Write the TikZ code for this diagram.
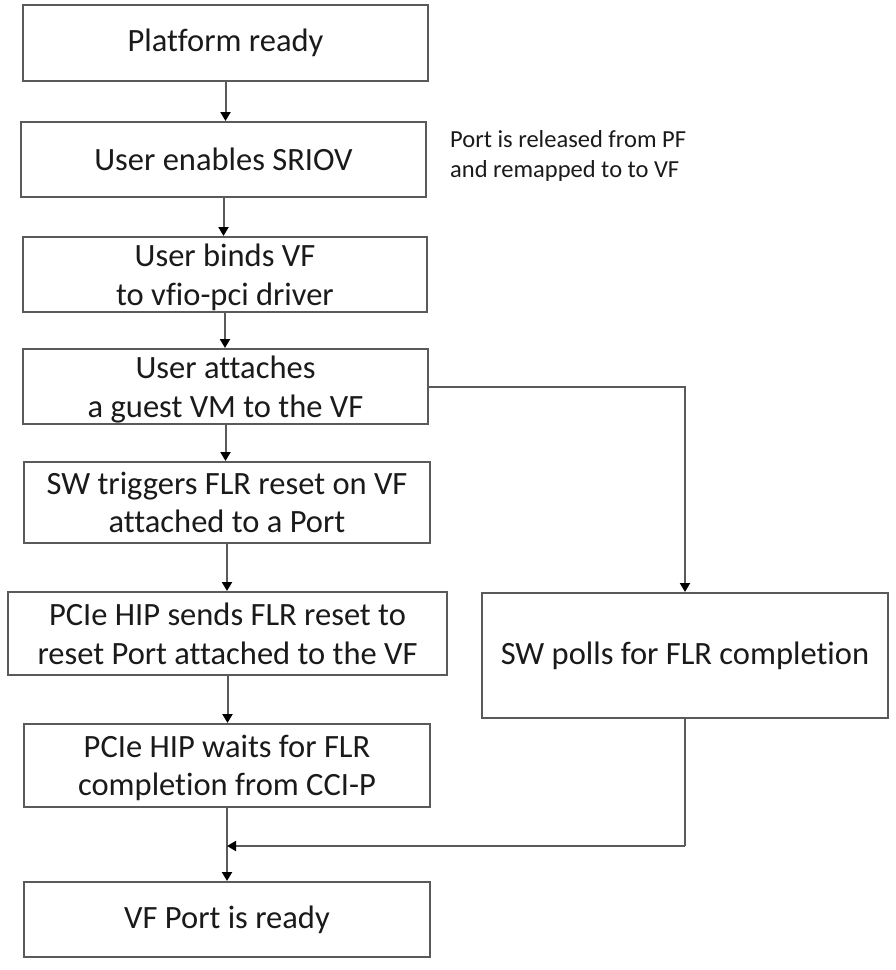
\documentclass[tikz,border=0pt]{standalone}
\usepackage{fontspec}
\setmainfont[Ligatures={NoCommon}]{Carlito}
\usetikzlibrary{arrows.meta}
\definecolor{flowline}{HTML}{5A5A5A}
\definecolor{flowtext}{HTML}{1A1A1A}

\begin{document}
\begin{tikzpicture}[x=1pt,y=-1pt,
    flowbox/.style={draw=flowline,line width=2pt,fill=white,text=flowtext,
      align=center,inner sep=0pt,font=\fontsize{32.5}{38.5}\selectfont},
    twoline/.style={text depth=0pt},
    flowarrow/.style={draw=flowline,line width=2pt,
      -{Triangle[width=10pt,length=9pt,color=black]}},
    flowjoin/.style={draw=flowline,line width=2pt}]

  \useasboundingbox (0,0) rectangle (896,970);

  % ---- Main column -------------------------------------------
  \node[flowbox,minimum width=405pt,minimum height=76pt] (ready) at (225.5,43)
    {Platform ready};
  \node[flowbox,minimum width=405pt,minimum height=75pt] (sriov) at (223.5,159.5)
    {User enables SRIOV};
  \node[flowbox,twoline,minimum width=404pt,minimum height=75pt] (bind) at (225,274.5)
    {User binds VF\\to vfio-pci driver};
  \node[flowbox,twoline,minimum width=405pt,minimum height=75pt] (attach) at (225.5,386.5)
    {User attaches\\a guest VM to the VF};
  \node[flowbox,twoline,minimum width=406pt,minimum height=81pt] (trigger) at (227,502.5)
    {SW triggers FLR reset on VF\\attached to a Port};
  \node[flowbox,twoline,minimum width=439pt,minimum height=83pt] (sends) at (227.5,633.5)
    {PCIe HIP sends FLR reset to\\reset Port attached to the VF};
  \node[flowbox,twoline,minimum width=406pt,minimum height=83pt] (waits) at (227,765.5)
    {PCIe HIP waits for FLR\\completion from CCI-P};
  \node[flowbox,minimum width=406pt,minimum height=75pt] (portready) at (227,919.5)
    {VF Port is ready};

  % ---- Side branch -------------------------------------------
  \node[flowbox,minimum width=406pt,minimum height=125pt] (polls) at (685,655.5)
    {SW polls for FLR completion};

  % note next to SRIOV step
  \node[anchor=north west,inner sep=0pt,align=left,text=flowtext,
    font=\fontsize{24.5}{30}\selectfont] (note) at (450,130)
    {Port is released from PF\\and remapped to to VF};

  % ---- Connectors --------------------------------------------
  \draw[flowarrow] (ready.south) -- (ready.south |- sriov.north);
  \draw[flowarrow] (sriov.south) -- (sriov.south |- bind.north);
  \draw[flowarrow] (bind.south) -- (bind.south |- attach.north);
  \draw[flowarrow] (attach.south) -- (attach.south |- trigger.north);
  \draw[flowarrow] (trigger.south) -- (trigger.south |- sends.north);
  \draw[flowarrow] (sends.south) -- (sends.south |- waits.north);
  \draw[flowarrow] (waits.south) -- (waits.south |- portready.north);

  \draw[flowarrow] (attach.east) -| (polls.north);
  \coordinate (merge) at (227,846);
  \draw[flowjoin] (polls.south) -- (polls.south |- merge);
  \draw[flowarrow] (polls.south |- merge) -- (merge);

\end{tikzpicture}
\end{document}
